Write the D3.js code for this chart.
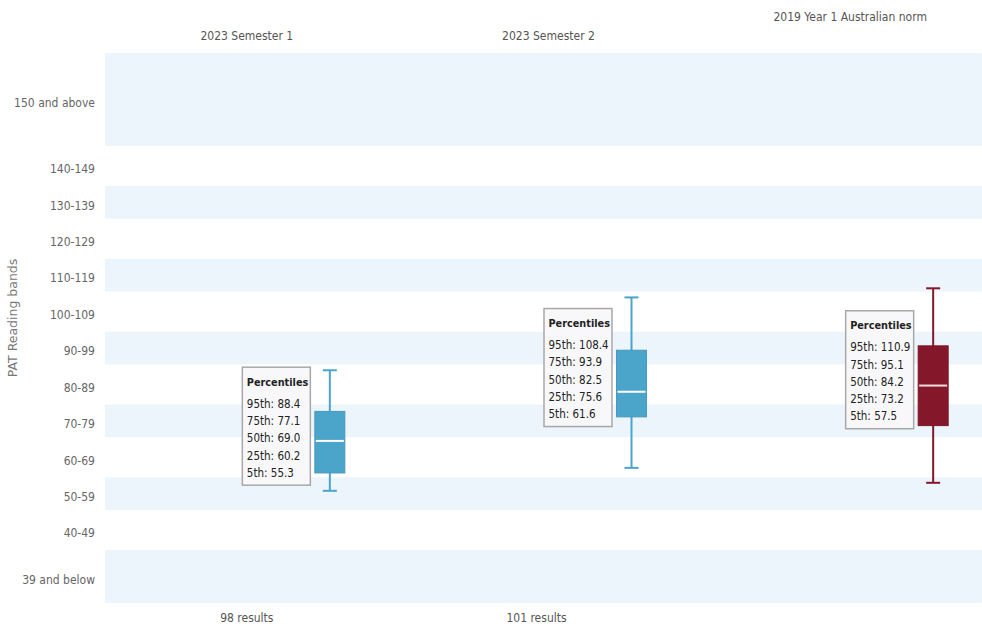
<!DOCTYPE html>
<html>
<head>
<meta charset="utf-8">
<script src="https://cdn.jsdelivr.net/npm/d3@7"></script>
<style>
  body { margin: 0; background: #fff; }
  svg { display: block; }
  .lbl { font-family: "DejaVu Sans Condensed", "DejaVu Sans", sans-serif; font-stretch: condensed; }
</style>
</head>
<body>
<svg id="chart"></svg>
<script>
// series (one box per column)
const seriesNames = ["2023 Semester 1", "2023 Semester 2", "2019 Year 1 Australian norm"]
const resultCounts = ["98 results", "101 results", ""]
const p5  = [55.3, 61.6, 57.5]
const p25 = [60.2, 75.6, 73.2]
const p50 = [69.0, 82.5, 84.2]
const p75 = [77.1, 93.9, 95.1]
const p95 = [88.4, 108.4, 110.9]
const boxColors = ["#4ba5cb", "#4ba5cb", "#85172a"]
const medianColors = ["#ffffff", "#ffffff", "#f6dede"]

// reading bands on the y axis
const bandLabels = ["150 and above", "140-149", "130-139", "120-129", "110-119", "100-109",
  "90-99", "80-89", "70-79", "60-69", "50-59", "40-49", "39 and below"]
const bandLo = [150, 140, 130, 120, 110, 100, 90, 80, 70, 60, 50, 40, 24.5]
const bandHi = [175.5, 149, 139, 129, 119, 109, 99, 89, 79, 69, 59, 49, 39]

const width = 982
const height = 630
const margin = { top: 53, right: 0, bottom: 27, left: 105 }

const svg = d3.select("#chart")
    .attr("width", width)
    .attr("height", height)

const y = d3.scaleLinear()
    .domain([24.5, 175.5])
    .range([height - margin.bottom, margin.top])

const x = d3.scaleBand()
    .domain(seriesNames)
    .range([96, 1001])

const boxOffset = 83 // boxes sit right of the column centre, tooltip on the left
const boxW = 30
const capW = 14

// shaded bands (every other one)
const bands = bandLabels.map((d, i) => ({ label: d, lo: bandLo[i], hi: bandHi[i], i: i }))

svg.append("g")
  .selectAll("rect")
  .data(bands.filter(d => d.i % 2 === 0))
  .join("rect")
    .attr("x", margin.left)
    .attr("width", width - margin.left)
    .attr("y", d => y(d.hi))
    .attr("height", d => y(d.lo) - y(d.hi))
    .attr("fill", "#ecf5fb")

// band labels, centred in the band (white bands span the gap between shaded ones)
svg.append("g")
  .selectAll("text")
  .data(bands)
  .join("text")
    .attr("class", "lbl")
    .attr("x", 95)
    .attr("y", d => {
      const top = d.i % 2 === 0 ? d.hi : d.hi + 1
      const bot = d.i % 2 === 0 ? d.lo : d.lo - 1
      return (y(top) + y(bot)) / 2 + 3
    })
    .attr("dy", "0.35em")
    .attr("text-anchor", "end")
    .attr("font-size", "12px")
    .attr("fill", "#666")
    .text(d => d.label)

// axis title
svg.append("text")
    .attr("transform", `translate(13,${318}) rotate(-90)`)
    .attr("text-anchor", "middle")
    .attr("dy", "0.35em")
    .attr("font-family", "DejaVu Sans, sans-serif")
    .attr("font-size", "12.5px")
    .attr("fill", "#777")
    .text("PAT Reading bands")

// column titles (the norm sits a little higher)
svg.append("g")
  .selectAll("text")
  .data(seriesNames)
  .join("text")
    .attr("class", "lbl")
    .attr("x", d => x(d) + x.bandwidth() / 2)
    .attr("y", (d, i) => i === 2 ? 21 : 40)
    .attr("text-anchor", "middle")
    .attr("font-size", "12px")
    .attr("fill", "#555")
    .text(d => d)

// result counts under the plot
svg.append("g")
  .selectAll("text")
  .data(resultCounts)
  .join("text")
    .attr("class", "lbl")
    .attr("x", (d, i) => x(seriesNames[i]) + x.bandwidth() / 2 - (i === 1 ? 12 : 0))
    .attr("y", 622)
    .attr("text-anchor", "middle")
    .attr("font-size", "12px")
    .attr("fill", "#555")
    .text(d => d)

// box plots
const boxes = seriesNames.map((d, i) => ({
  name: d, p5: p5[i], p25: p25[i], p50: p50[i], p75: p75[i], p95: p95[i],
  color: boxColors[i], median: medianColors[i],
  cx: x(d) + x.bandwidth() / 2 + boxOffset
}))

const g = svg.append("g")
  .selectAll("g")
  .data(boxes)
  .join("g")

g.append("line") // whisker stem
    .attr("x1", d => d.cx).attr("x2", d => d.cx)
    .attr("y1", d => y(d.p95)).attr("y2", d => y(d.p5))
    .attr("stroke", d => d.color)
    .attr("stroke-width", 2)

g.selectAll(".cap")
  .data(d => [{ v: d.p95, d: d }, { v: d.p5, d: d }])
  .join("line")
    .attr("class", "cap")
    .attr("x1", c => c.d.cx - capW / 2).attr("x2", c => c.d.cx + capW / 2)
    .attr("y1", c => y(c.v)).attr("y2", c => y(c.v))
    .attr("stroke", c => c.d.color)
    .attr("stroke-width", 2)

g.append("rect")
    .attr("x", d => d.cx - boxW / 2)
    .attr("width", boxW)
    .attr("y", d => y(d.p75))
    .attr("height", d => y(d.p25) - y(d.p75))
    .attr("fill", d => d.color)
    .attr("stroke", d => d3.color(d.color).darker(0.2))
    .attr("stroke-width", 1)

g.append("line") // median
    .attr("x1", d => d.cx - boxW / 2 + 1).attr("x2", d => d.cx + boxW / 2 - 1)
    .attr("y1", d => y(d.p50)).attr("y2", d => y(d.p50))
    .attr("stroke", d => d.median)
    .attr("stroke-width", 2)

// percentile tooltips, hung off the middle of the box
const tipW = 68
const tipH = 118
const tip = g.append("g")
    .attr("transform", d => `translate(${d.cx - 20 - tipW},${(y(d.p75) + y(d.p25)) / 2 - 75.5})`)

tip.append("rect")
    .attr("x", 0.5).attr("y", 0.5)
    .attr("width", tipW).attr("height", tipH)
    .attr("fill", "#f8f8fa")
    .attr("stroke", "#a8a8a8")
    .attr("stroke-width", 1.5)

tip.append("text")
    .attr("class", "lbl")
    .attr("x", 5).attr("y", 19)
    .attr("font-size", "10.8px")
    .attr("font-weight", "bold")
    .attr("fill", "#222")
    .text("Percentiles")

tip.selectAll(".row")
  .data(d => [["95th", d.p95], ["75th", d.p75], ["50th", d.p50], ["25th", d.p25], ["5th", d.p5]])
  .join("text")
    .attr("class", "lbl row")
    .attr("x", 5)
    .attr("y", (r, j) => 41 + j * 17.3)
    .attr("font-size", "11.5px")
    .attr("fill", "#222")
    .text(r => `${r[0]}: ${d3.format(".1f")(r[1])}`)
</script>
</body>
</html>
